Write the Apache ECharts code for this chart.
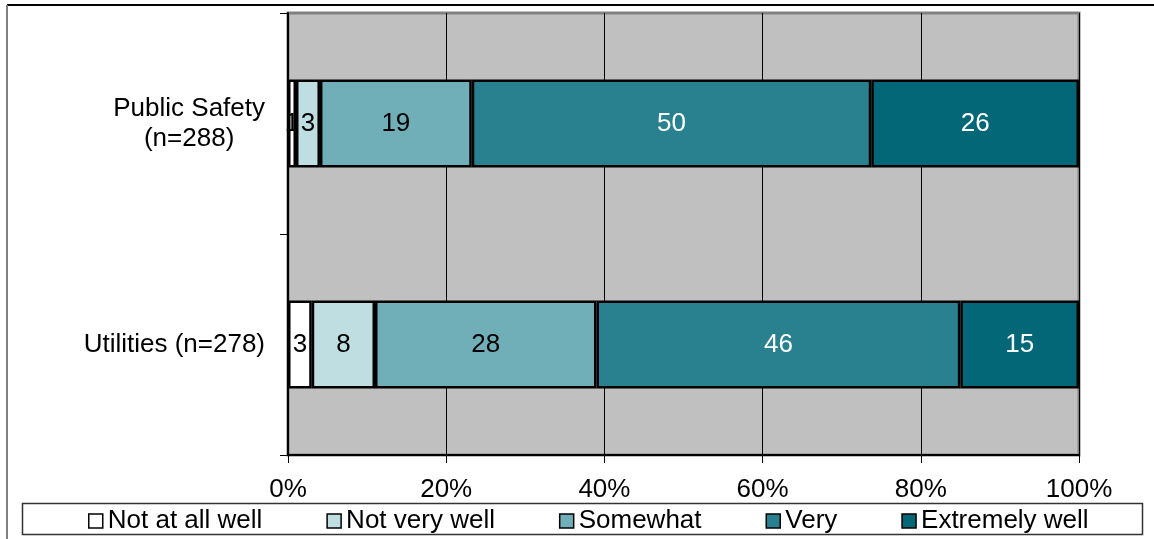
<!DOCTYPE html>
<html>
<head>
<meta charset="utf-8">
<script src="https://cdn.jsdelivr.net/npm/echarts@6/dist/echarts.min.js"></script>
<style>
  html, body { margin: 0; padding: 0; background: #fff; }
  #chart { width: 1154px; height: 539px; }
</style>
</head>
<body>
<div id="chart"></div>
<script>
// Survey groups (top to bottom)
const categories = ['Public Safety\n(n=288)', 'Utilities (n=278)'];

// Response levels and the percent answering each, per group
const seriesNames = ['Not at all well', 'Not very well', 'Somewhat', 'Very', 'Extremely well'];
const notAtAllWell  = [1, 3];
const notVeryWell   = [3, 8];
const somewhat      = [19, 28];
const very          = [50, 46];
const extremelyWell = [26, 15];

const xTicks = [0, 20, 40, 60, 80, 100];

const colors = ['#ffffff', '#bfdee2', '#70afb8', '#29818f', '#036778'];
const labelColors = ['#000000', '#000000', '#000000', '#ffffff', '#ffffff'];
const FONT = '"Liberation Sans", Arial, sans-serif';

const rawSeries = [notAtAllWell, notVeryWell, somewhat, very, extremelyWell];

// 100% stacked: each segment is its share of the row total
const rowTotals = categories.map((_, i) => rawSeries.reduce((s, arr) => s + arr[i], 0));

const series = rawSeries.map((arr, k) => ({
  name: seriesNames[k],
  type: 'bar',
  stack: 'total',
  barWidth: 88,
  data: arr.map((v, i) => ({ value: v / rowTotals[i] * 100, raw: v })),
  itemStyle: { color: colors[k], borderColor: '#000', borderWidth: 2.5 },
  label: {
    show: true,
    position: 'inside',
    fontFamily: FONT,
    fontSize: 26,
    color: labelColors[k],
    formatter: p => String(arr[p.dataIndex])
  },
  emphasis: { disabled: true }
}));

const chart = echarts.init(document.getElementById('chart'), null, { renderer: 'canvas' });
chart.setOption({
  animation: false,
  backgroundColor: '#ffffff',
  textStyle: { fontFamily: FONT },
  grid: {
    left: 288, right: 75, top: 13, bottom: 84,
    show: true,
    backgroundColor: '#c0c0c0',
    borderColor: '#808080',
    borderWidth: 3
  },
  xAxis: {
    type: 'value',
    min: xTicks[0],
    max: xTicks[xTicks.length - 1],
    interval: xTicks[1] - xTicks[0],
    axisLine: { show: true, lineStyle: { color: '#000', width: 2 } },
    axisTick: { show: true, length: 8, lineStyle: { color: '#000', width: 1 } },
    splitLine: { show: true, lineStyle: { color: '#000', width: 1 } },
    axisLabel: {
      formatter: '{value}%',
      fontFamily: FONT,
      fontSize: 26,
      color: '#000',
      margin: 22
    }
  },
  yAxis: {
    type: 'category',
    inverse: true,
    data: categories,
    axisLine: { show: true, lineStyle: { color: '#000', width: 2 } },
    axisTick: { show: true, alignWithLabel: false, length: 8, lineStyle: { color: '#000', width: 1 } },
    splitLine: { show: false },
    axisLabel: {
      fontFamily: FONT,
      fontSize: 26,
      color: '#000',
      margin: 23,
      lineHeight: 30,
      formatter: v => v.split('\n').map(s => '{c|' + s + '}').join('\n'),
      rich: {
        c: { align: 'center', fontFamily: FONT, fontSize: 26, lineHeight: 30, color: '#000' }
      }
    }
  },
  legend: {
    data: seriesNames,
    left: 83,
    top: 503,
    icon: 'rect',
    itemWidth: 14,
    itemHeight: 14,
    itemGap: 64,
    itemStyle: { borderColor: '#000', borderWidth: 1.5 },
    textStyle: { fontFamily: FONT, fontSize: 26, color: '#000' },
    selectedMode: false
  },
  graphic: [
    // outer chart frame
    { type: 'line', shape: { x1: 7, y1: 5, x2: 1154, y2: 5 }, style: { stroke: '#000', lineWidth: 2 }, silent: true },
    { type: 'line', shape: { x1: 7, y1: 5, x2: 7, y2: 539 }, style: { stroke: '#808080', lineWidth: 2 }, silent: true },
    // legend box
    { type: 'rect', shape: { x: 22.5, y: 503.5, width: 1120, height: 31 }, style: { fill: 'none', stroke: '#333', lineWidth: 1.5 }, silent: true }
  ],
  series: series
});
</script>
</body>
</html>
